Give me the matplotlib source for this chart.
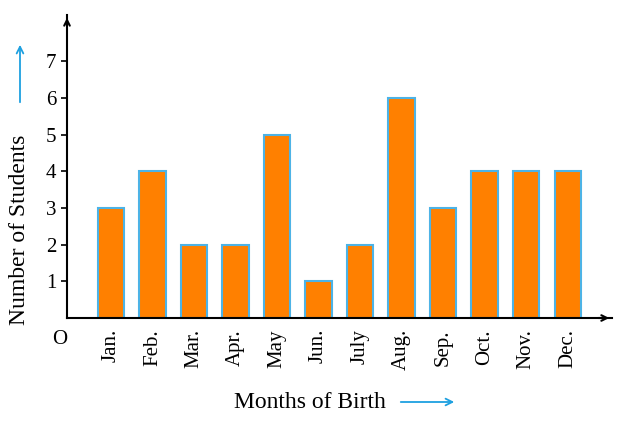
import matplotlib
matplotlib.use("Agg")
import matplotlib.pyplot as plt

months = ["Jan.", "Feb.", "Mar.", "Apr.", "May", "Jun.", "July", "Aug.", "Sep.", "Oct.", "Nov.", "Dec."]
students = [3, 4, 2, 2, 5, 1, 2, 6, 3, 4, 4, 4]
yticks = [1, 2, 3, 4, 5, 6, 7]

plt.rcParams['font.family'] = ['Liberation Serif', 'DejaVu Serif']
W, H = 625, 421
fig = plt.figure(figsize=(W/100, H/100), dpi=100)
ax = fig.add_axes([67/W, (H-318)/H, (612-67)/W, (318-15)/H])
x = list(range(1, len(months)+1))
ax.bar(x, students, width=0.63, color='#FF8000', edgecolor='#4DB3E6', linewidth=1.5, zorder=2)
ax.set_xlim(-0.06, 13.07)
ax.set_ylim(0, 8.26)
for s in ['top', 'right']:
    ax.spines[s].set_visible(False)
for s in ['left', 'bottom']:
    ax.spines[s].set_linewidth(1.5)
ax.set_xticks(x)
ax.set_xticklabels(months, rotation=90, fontsize=15)
ax.set_yticks(yticks)
ax.set_yticklabels([str(v) for v in yticks], fontsize=15)
ax.tick_params(axis='both', length=4, width=1.2)
ax.tick_params(axis='x', length=0, pad=8)
# axis arrows
ax.annotate('', xy=(1.0, 0), xytext=(0.97, 0), xycoords='axes fraction',
            arrowprops=dict(arrowstyle='->', lw=1.5, color='black'))
ax.annotate('', xy=(0, 1.0), xytext=(0, 0.96), xycoords='axes fraction',
            arrowprops=dict(arrowstyle='->', lw=1.5, color='black'))
fig.text(60/W, 1-340/H, 'O', fontsize=15, ha='center', va='center')
fig.text(310/W, 1-402/H, 'Months of Birth', fontsize=17, ha='center', va='center')
fig.add_artist(matplotlib.patches.FancyArrowPatch((398/W, 1-402/H), (457/W, 1-402/H),
               transform=fig.transFigure, arrowstyle='->', color='#1EA0E0', lw=1.3, mutation_scale=12))
fig.text(20/W, 1-230/H, 'Number of Students', fontsize=17, rotation=90, ha='center', va='center')
fig.add_artist(matplotlib.patches.FancyArrowPatch((20/W, 1-105/H), (20/W, 1-42/H),
               transform=fig.transFigure, arrowstyle='->', color='#1EA0E0', lw=1.3, mutation_scale=12))
fig.savefig('out.png', dpi=100)
